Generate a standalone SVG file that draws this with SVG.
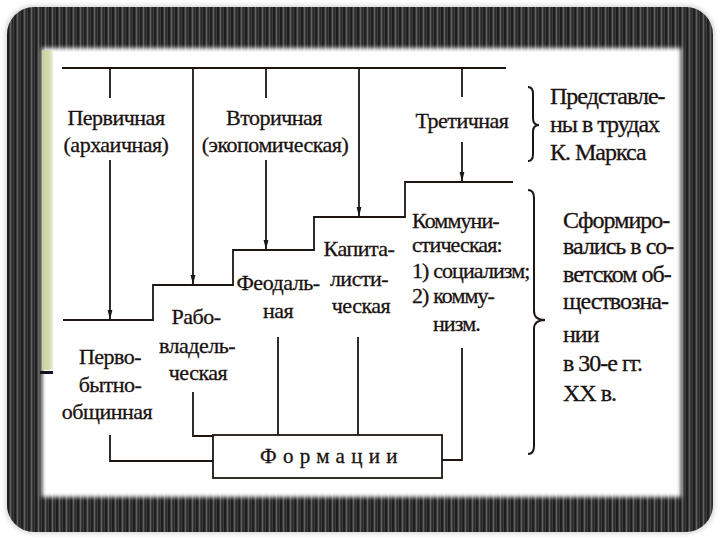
<svg xmlns="http://www.w3.org/2000/svg" width="720" height="540" viewBox="0 0 720 540">
  <defs>
    <pattern id="stripes" width="7" height="10" patternUnits="userSpaceOnUse">
      <rect width="7" height="10" fill="#3d3d3d"/>
      <rect x="0" width="2" height="10" fill="#1f1f1f"/>
      <rect x="3" width="1" height="10" fill="#606060"/>
      <rect x="5" width="1" height="10" fill="#2a2a2a"/>
    </pattern>
    <linearGradient id="green" x1="0" y1="0" x2="1" y2="0">
      <stop offset="0" stop-color="#c9d09b"/>
      <stop offset="0.7" stop-color="#d8deb4"/>
      <stop offset="1" stop-color="#eef0dc"/>
    </linearGradient>
    <filter id="soft" x="-5%" y="-5%" width="110%" height="110%">
      <feGaussianBlur stdDeviation="2"/>
    </filter>
    <filter id="halo" x="-5%" y="-5%" width="110%" height="110%">
      <feGaussianBlur stdDeviation="2"/>
    </filter>
    <marker id="arr" markerWidth="10" markerHeight="6" refX="10" refY="3" orient="auto" markerUnits="userSpaceOnUse">
      <path d="M0,0.6 L10,3 L0,5.4 z" fill="#1e1612"/>
    </marker>
  </defs>
  <style>
    .ln { fill: none; stroke: #1e1612; stroke-width: 1.8; }
    .br { fill: none; stroke: #1e1612; stroke-width: 2; }
    .t { font-family: 'Liberation Serif', serif; font-size: 22px; letter-spacing: -0.5px; fill: #1a1210; stroke: #1a1210; stroke-width: 0.3px; }
    .c { text-anchor: middle; }
    .big { font-size: 24px; letter-spacing: -1px; }
    .tight { letter-spacing: -0.9px; }
    .spaced { font-size: 21px; letter-spacing: 6.3px; }
    .box { fill: #ffffff; stroke: #1e1612; stroke-width: 1.8; }
  </style>

  <rect x="0" y="0" width="720" height="540" fill="#ffffff"/>
  <rect x="5" y="5" width="710" height="529" rx="28" fill="#9a9a9a" opacity="0.35" filter="url(#halo)"/>
  <rect x="7" y="7" width="706" height="525" rx="27" fill="url(#stripes)"/>
  <rect x="42" y="48" width="639" height="449" fill="#ffffff" filter="url(#soft)"/>
  <rect x="42" y="50" width="11" height="320" fill="url(#green)"/>
  <rect x="40" y="371" width="13" height="3" fill="#1a1020"/>

  <g id="connectors">
    <path class="ln" d="M62,68 H506"/>
    <path class="ln" d="M110,68 V98"/>
    <path class="ln" d="M110,160 V320" marker-end="url(#arr)"/>
    <path class="ln" d="M193,68 V285" marker-end="url(#arr)"/>
    <path class="ln" d="M266,68 V98"/>
    <path class="ln" d="M266,160 V250" marker-end="url(#arr)"/>
    <path class="ln" d="M359,68 V217" marker-end="url(#arr)"/>
    <path class="ln" d="M462,68 V97"/>
    <path class="ln" d="M462,142 V182" marker-end="url(#arr)"/>
    <path class="ln" d="M63,320 H153 V285 H233 V250 H314 V217 H405 V182 H513"/>
    <path class="ln" d="M110,435 V461 H213"/>
    <path class="ln" d="M193,392 V436 H213"/>
    <path class="ln" d="M278,337 V435"/>
    <path class="ln" d="M358,337 V435"/>
    <path class="ln" d="M462,348 V460 H442"/>
  </g>

  <g style="font-family: 'Liberation Serif', serif">
  <g id="n-primary">
    <text class="t c" x="116" y="125">Первичная</text>
    <text class="t c" x="116" y="152">(архаичная)</text>
  </g>
  <g id="n-secondary">
    <text class="t c" x="274" y="125">Вторичная</text>
    <text class="t c" x="275" y="152">(экопомическая)</text>
  </g>
  <g id="n-tertiary">
    <text class="t c" x="462" y="128">Третичная</text>
  </g>
  <g id="n-marx">
    <path class="br" d="M528,87 Q533,87 533,94 L533,118 Q533,125 539,125 Q533,125 533,132 L533,154 Q533,161 528,161"/>
    <text class="t big" x="550" y="104">Представле-</text>
    <text class="t big" x="550" y="132">ны в трудах</text>
    <text class="t big" x="550" y="160">К. Маркса</text>
  </g>
  <g id="n-primitive">
    <text class="t c" x="110" y="364">Перво-</text>
    <text class="t c" x="110" y="392">бытно-</text>
    <text class="t c" x="107" y="419">общинная</text>
  </g>
  <g id="n-slave">
    <text class="t c" x="196" y="324">Рабо-</text>
    <text class="t c" x="197" y="353">владель-</text>
    <text class="t c" x="198" y="380">ческая</text>
  </g>
  <g id="n-feudal">
    <text class="t c" x="278" y="290">Феодаль-</text>
    <text class="t c" x="278" y="318">ная</text>
  </g>
  <g id="n-capital">
    <text class="t c" x="359" y="256">Капита-</text>
    <text class="t c" x="359" y="286">листи-</text>
    <text class="t c" x="361" y="313">ческая</text>
  </g>
  <g id="n-communist">
    <text class="t tight" x="412" y="228">Коммуни-</text>
    <text class="t tight" x="412" y="252">стическая:</text>
    <text class="t tight" x="412" y="278">1) социализм;</text>
    <text class="t tight" x="412" y="303">2) комму-</text>
    <text class="t tight" x="433" y="331">низм.</text>
  </g>
  <g id="n-soviet">
    <path class="br" d="M528,190 Q534,190 534,198 L534,311 Q534,320 545,320 Q534,320 534,329 L534,446 Q534,454 528,454"/>
    <text class="t big" x="563" y="228">Сформиро-</text>
    <text class="t big" x="563" y="254">вались в со-</text>
    <text class="t big" x="563" y="282">ветском об-</text>
    <text class="t big" x="563" y="309">ществозна-</text>
    <text class="t big" x="563" y="342">нии</text>
    <text class="t big" x="563" y="371">в 30-е гг.</text>
    <text class="t big" x="563" y="401">XX в.</text>
  </g>
  <g id="n-formations">
    <rect class="box" x="213" y="435" width="229" height="43"/>
    <text class="t spaced" x="260" y="463">Формации</text>
  </g>
  </g>
</svg>
